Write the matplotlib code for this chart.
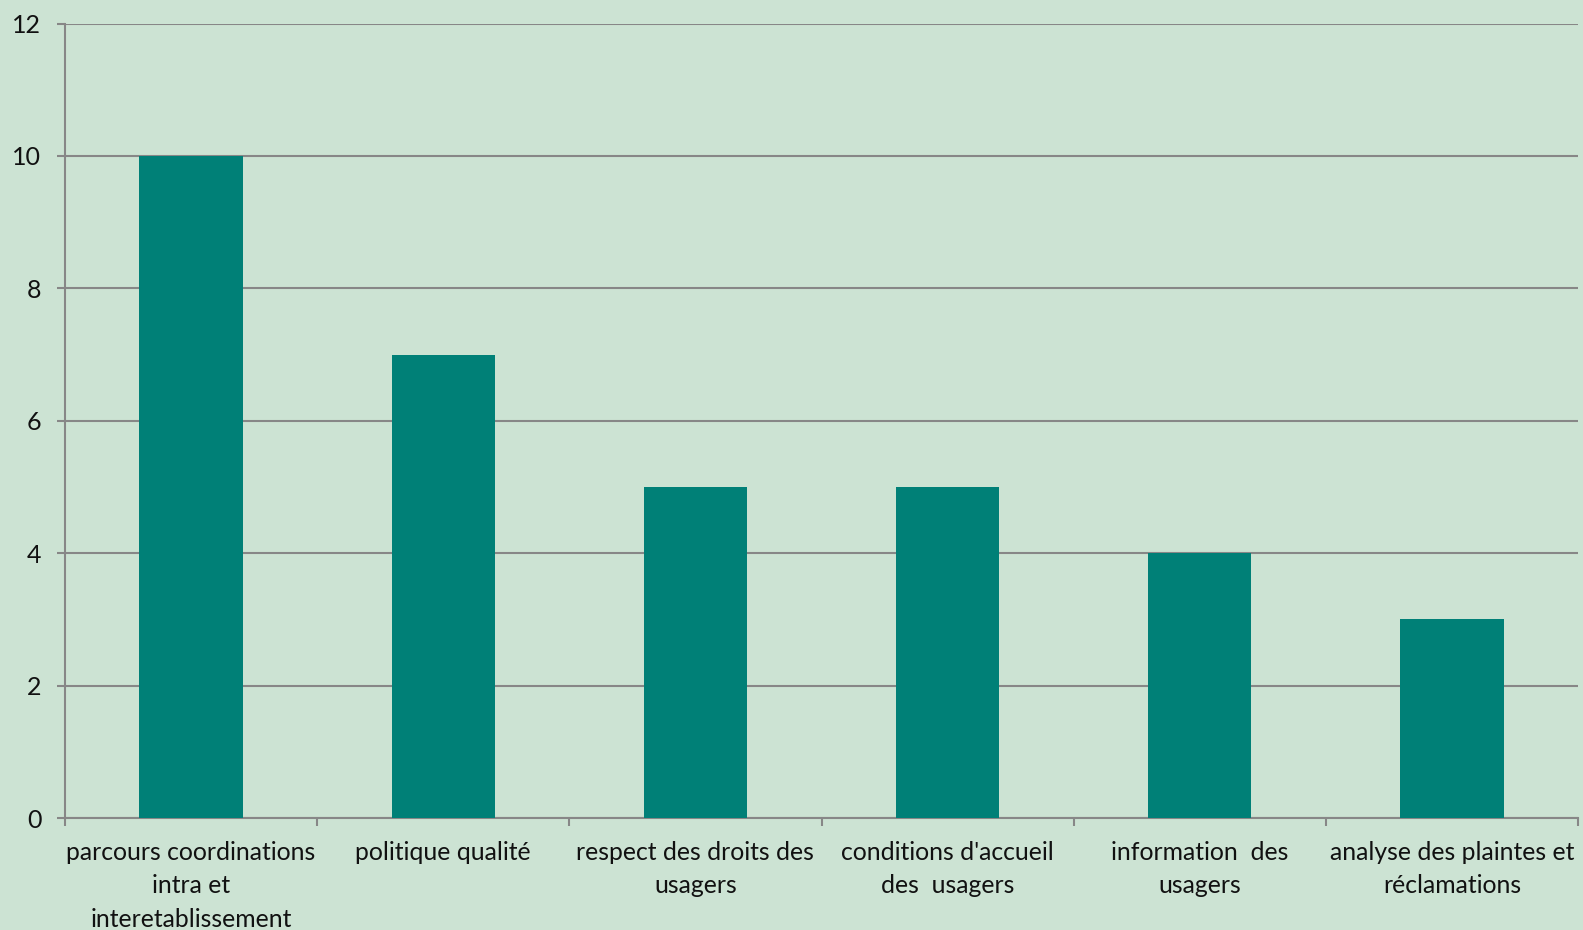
import matplotlib
matplotlib.use("Agg")
import matplotlib.pyplot as plt
import numpy as np

categories = [
    "parcours coordinations\nintra et\ninteretablissement",
    "politique qualité",
    "respect des droits des\nusagers",
    "conditions d'accueil\ndes  usagers",
    "information  des\nusagers",
    "analyse des plaintes et\nréclamations",
]
values = [10, 7, 5, 5, 4, 3]
yticks = [0, 2, 4, 6, 8, 10, 12]

bg = "#cce3d3"
bar_color = "#008077"
grid_color = "#878787"

plt.rcParams['font.family'] = ['Lato', 'DejaVu Sans']

fig = plt.figure(figsize=(15.83, 9.30), dpi=100, facecolor=bg)
ax = fig.add_axes([65/1583, 1-818/930, (1578-65)/1583, (818-23.5)/930])
ax.set_facecolor(bg)

x = np.arange(len(categories))
ax.bar(x, values, width=0.41, color=bar_color, zorder=3)

ax.set_xlim(-0.5, len(categories) - 0.5)
ax.set_ylim(0, 12)
ax.set_yticks(yticks)
ax.yaxis.grid(True, color=grid_color, linewidth=1.5, zorder=0)
ax.set_axisbelow(True)

ax.set_xticks(x)
ax.set_xticklabels(categories, fontsize=17.8, color="#111111", linespacing=1.55, va="top")
ax.tick_params(axis='x', length=0, pad=16.5)
ax.set_xticks(np.arange(-0.5, len(categories)), minor=True)
ax.tick_params(axis='x', which='minor', length=6, width=1.5, color=grid_color, direction='out')
ax.tick_params(axis='y', length=6, width=1.5, color=grid_color, labelsize=18, pad=11, labelcolor="#111111")

for s in ['top', 'right']:
    ax.spines[s].set_visible(False)
for s in ['left', 'bottom']:
    ax.spines[s].set_color(grid_color)
    ax.spines[s].set_linewidth(1.5)

fig.savefig("out.png", dpi=100, facecolor=bg)
